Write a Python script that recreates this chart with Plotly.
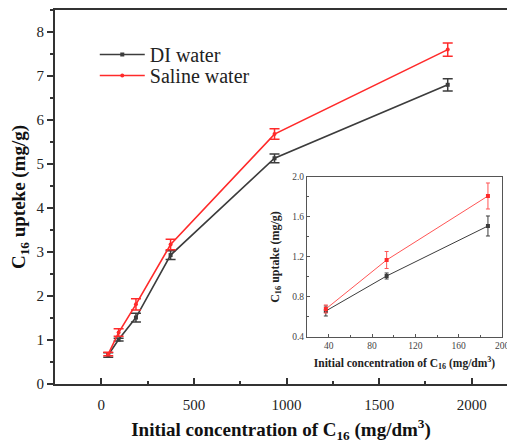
import plotly.graph_objects as go

conc = [37.4, 93.5, 187, 374, 935, 1870]
di_uptake = [0.66, 1.01, 1.51, 2.93, 5.13, 6.80]
di_err = [0.05, 0.03, 0.10, 0.10, 0.10, 0.14]
saline_uptake = [0.68, 1.17, 1.81, 3.17, 5.68, 7.60]
saline_err = [0.04, 0.085, 0.13, 0.12, 0.12, 0.15]

inset_conc = conc[:3]
inset_di = di_uptake[:3]
inset_di_err = di_err[:3]
inset_saline = saline_uptake[:3]
inset_saline_err = saline_err[:3]

DI_COLOR = "#3c3c3c"
SAL_COLOR = "#ff2a2a"
FONT = "Liberation Serif"
AX = "#333333"

fig = go.Figure()

fig.add_trace(go.Scatter(
    x=conc, y=di_uptake, name="DI water", mode="lines+markers", legend="legend",
    line=dict(color=DI_COLOR, width=1.6),
    marker=dict(color=DI_COLOR, size=4, symbol="square"),
    error_y=dict(type="data", array=di_err, color=DI_COLOR, thickness=1.5, width=5),
    xaxis="x", yaxis="y"))
fig.add_trace(go.Scatter(
    x=conc, y=saline_uptake, name="Saline water", mode="lines+markers", legend="legend2",
    line=dict(color=SAL_COLOR, width=1.6),
    marker=dict(color=SAL_COLOR, size=4, symbol="circle"),
    error_y=dict(type="data", array=saline_err, color=SAL_COLOR, thickness=1.5, width=5),
    xaxis="x", yaxis="y"))

fig.add_trace(go.Scatter(
    x=inset_conc, y=inset_di, mode="lines+markers", showlegend=False,
    line=dict(color=DI_COLOR, width=1),
    marker=dict(color=DI_COLOR, size=4, symbol="square"),
    error_y=dict(type="data", array=inset_di_err, color=DI_COLOR, thickness=1, width=2),
    xaxis="x2", yaxis="y2"))
fig.add_trace(go.Scatter(
    x=inset_conc, y=inset_saline, mode="lines+markers", showlegend=False,
    line=dict(color="#ff5555", width=1),
    marker=dict(color=SAL_COLOR, size=4, symbol="square"),
    error_y=dict(type="data", array=inset_saline_err, color="#ff5555", thickness=1, width=2),
    xaxis="x2", yaxis="y2"))

legend_common = dict(xanchor="left", yanchor="top", itemwidth=45,
                     font=dict(family=FONT, size=20, color="#222222"),
                     bgcolor="rgba(0,0,0,0)")

fig.update_layout(
    width=507, height=443,
    margin=dict(l=55, r=0, t=10, b=59, autoexpand=False),
    paper_bgcolor="white", plot_bgcolor="white",
    font=dict(family=FONT, color="#222222"),
    showlegend=True,
    legend=dict(x=0.088, y=0.933, **legend_common),
    legend2=dict(x=0.088, y=0.877, **legend_common),
    xaxis=dict(
        domain=[0, 1], range=[-250, 2190], showgrid=False, zeroline=False, automargin=False,
        showline=True, linecolor=AX, linewidth=2, mirror=True,
        ticks="inside", ticklen=6, tickwidth=1.5, tickcolor=AX,
        tick0=0, dtick=500, ticklabelstandoff=6,
        minor=dict(ticks="inside", ticklen=3, tickwidth=1.5, tickcolor=AX, dtick=250, tick0=0, showgrid=False),
        tickfont=dict(family=FONT, size=15, color="#222222"),
        title=dict(text="Initial concentration of C<sub>16</sub> (mg/dm<sup>3</sup>)",
                   font=dict(family=FONT, size=19, weight="bold", color="#111111"), standoff=14),
    ),
    yaxis=dict(
        domain=[0, 1], range=[0, 8.5], showgrid=False, zeroline=False, automargin=False,
        showline=True, linecolor=AX, linewidth=2, mirror=False,
        ticks="outside", ticklen=6, tickwidth=1.5, tickcolor=AX,
        tick0=0, dtick=1,
        minor=dict(ticks="outside", ticklen=3, tickwidth=1.5, tickcolor=AX, dtick=0.5, tick0=0, showgrid=False),
        tickfont=dict(family=FONT, size=15, color="#222222"),
        title=dict(text="C<sub>16</sub> upteke (mg/g)",
                   font=dict(family=FONT, size=19, weight="bold", color="#111111"), standoff=6),
    ),
    xaxis2=dict(
        domain=[0.5575, 0.989], anchor="y2", range=[20, 200], showgrid=False, zeroline=False, automargin=False,
        showline=True, linecolor="#555555", linewidth=1, mirror=True,
        ticks="inside", ticklen=3, tickwidth=1, tickcolor="#555555",
        tick0=40, dtick=40, ticklabeloverflow="allow",
        minor=dict(ticks="inside", ticklen=2, tickwidth=1, tickcolor="#555555", dtick=20, tick0=0, showgrid=False),
        tickfont=dict(family=FONT, size=9.5, color="#444444"),
        title=dict(text="Initial concentration of C<sub>16</sub> (mg/dm<sup>3</sup>)",
                   font=dict(family=FONT, size=11.5, weight="bold", color="#222222"), standoff=8),
    ),
    yaxis2=dict(
        domain=[0.1257, 0.5535], anchor="x2", range=[0.4, 2.0], showgrid=False, zeroline=False, automargin=False,
        showline=True, linecolor="#555555", linewidth=1, mirror=True,
        ticks="inside", ticklen=3, tickwidth=1, tickcolor="#555555",
        tick0=0.4, dtick=0.4, tickformat=".1f",
        minor=dict(ticks="inside", ticklen=2, tickwidth=1, tickcolor="#555555", dtick=0.2, tick0=0.4, showgrid=False),
        tickfont=dict(family=FONT, size=9.5, color="#444444"),
        title=dict(text="C<sub>16</sub> uptake (mg/g)",
                   font=dict(family=FONT, size=12, weight="bold", color="#222222"), standoff=10),
    ),
)

fig.write_html("out.html", config={"displayModeBar": False},
               post_script="document.body.style.margin='0';")
